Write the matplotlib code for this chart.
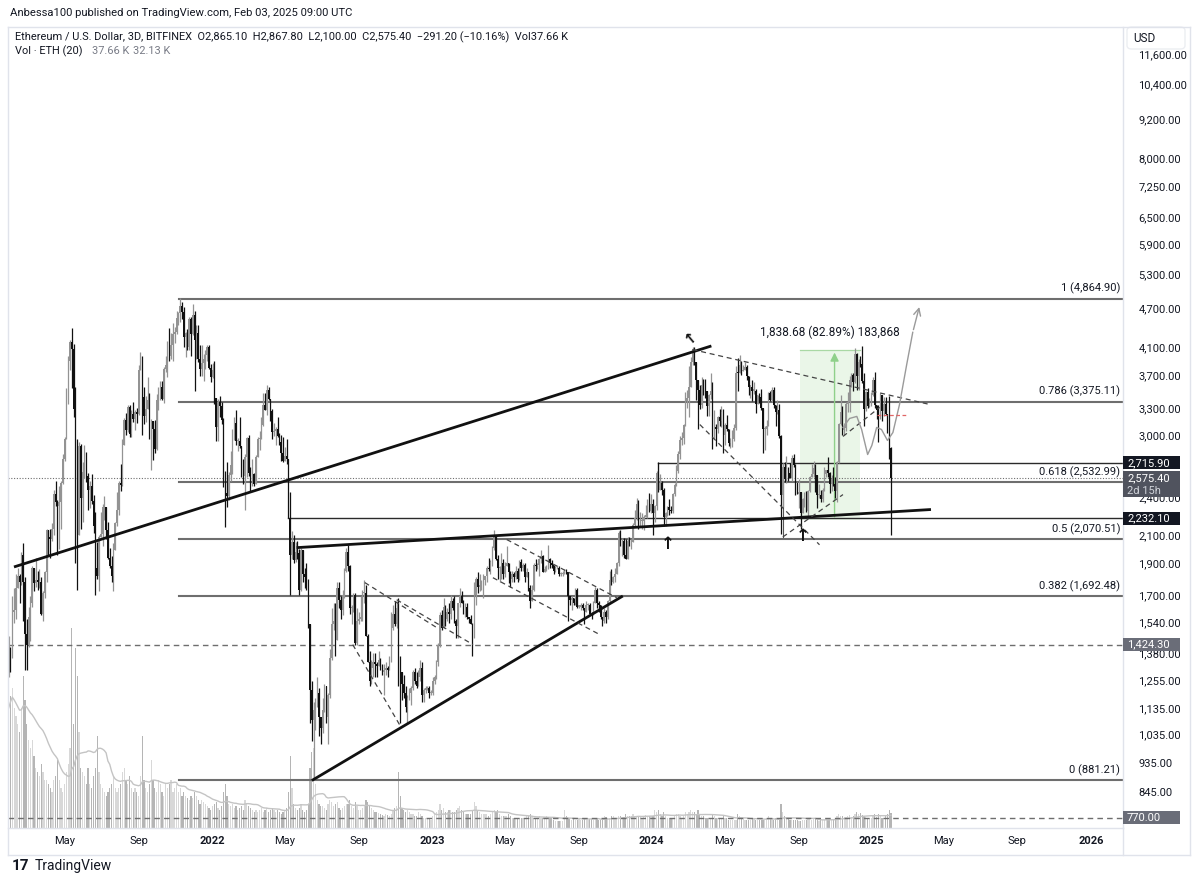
import datetime as dt
import numpy as np
import pandas as pd
import matplotlib
matplotlib.use("Agg")
import matplotlib.pyplot as plt
import matplotlib.dates as mdates
from matplotlib.patches import Rectangle, FancyBboxPatch
from matplotlib.ticker import FixedLocator, FuncFormatter, NullLocator
from matplotlib.transforms import blended_transform_factory

plt.rcParams['font.family'] = ['Roboto', 'DejaVu Sans']

# ---------------- data (3D candles, Bitfinex ETH/USD) ----------------
first_candle = "2021-01-28"
open0 = 1330

close_a = [1380,1370,1600,1610,1740,1820,1780,1960,1780,1480,
           1420,1570,1650,1870,1770,1790,1780,1780,1590,1710,
           1840,2140,2090,2070,2150,2430,2360,2330,2360,2530,
           2750,2950,3500,3900,4170,4070,3290,2780,2100,2880,
           2400,2630,2690,2590,2470,2500,2370,2170,1870,1820,
           2090,2110,2320,2320,2140,1940,1880,1820,1990,2190,
           2300,2530,2510,2890,3160,3050,3310,3010,3230,3170,
           3250,3230,3780,3940,3430,3210,3290,3400,2980,3150,
           3060,2850,3390,3520,3560,3410,3790,3850,4160,3970,
           4130,4290,4320,4540,4620,4740,4640,4240,4300,4090,
           4520,4290,4590,4200,4310,3920,3790,3870,3930,3980,
           4090,3800,3680]
high_a = [1470,1410,1690,1740,1830,1870,1830,1980,2040,1810,
          1560,1630,1690,1880,1870,1940,1850,1860,1810,1720,
          1850,2150,2140,2150,2190,2470,2550,2380,2500,2550,
          2800,2980,3540,3970,4200,4380,4140,3550,2950,2920,
          2900,2720,2890,2820,2620,2550,2610,2420,2280,2050,
          2100,2280,2350,2410,2280,2200,2010,1950,2040,2200,
          2450,2550,2700,2950,3180,3240,3330,3330,3270,3370,
          3270,3300,3840,4030,3970,3550,3440,3680,3480,3170,
          3150,3160,3470,3550,3630,3630,3810,3970,4180,4380,
          4300,4460,4400,4660,4640,4870,4810,4720,4320,4370,
          4550,4560,4780,4650,4430,4430,4130,4120,4000,4060,
          4130,4120,3860]
low_a = [1270,1290,1360,1540,1560,1740,1650,1760,1550,1300,
         1300,1410,1440,1630,1720,1750,1730,1740,1580,1550,
         1680,1780,1960,1940,2060,2100,2330,1960,2000,2150,
         2520,2730,2950,3350,3770,3540,3200,1900,1730,2100,
         2150,2200,2570,2540,2300,2310,2350,2120,1700,1800,
         1720,2090,2020,2220,2070,1930,1870,1780,1720,1990,
         2170,2260,2460,2500,2900,3000,3030,2980,2980,3140,
         3050,3130,3220,3830,3000,3120,3140,3380,2960,2650,
         2740,2810,2840,3270,3390,3400,3360,3750,3680,3900,
         3920,3900,4150,4290,4430,4470,4520,4100,3950,4060,
         4060,3970,4280,3500,3920,3890,3700,3690,3630,3790,
         3900,3790,3620]

close_b = [3770,3420,3080,3370,3320,3160,2560,2440,2410,2600,
           2690,3010,3130,2930,2930,2880,2620,2590,2770,2970,
           2620,2500,2610,2520,2770,2950,2970,3110,3330,3280,
           3520,3410,3260,3030,3040,3060,2990,2920,2810,2730,
           2780,2750,2230,1960,2050,1920,1980,1970,1730,1990,
           1830,1810,1790,1530,1210,1090,1130,1140,1200,1100,
           1060,1130,1230,1100,1190,1360,1530,1550,1450,1740,
           1670,1610,1700,1850,1980,1880,1620,1620,1700,1430,
           1550,1560,1570,1710,1710,1470,1340,1250,1310,1340,
           1330,1320,1350,1320,1290,1300,1310,1300,1350,1510,
           1590,1530,1620,1340,1290,1240,1200,1140,1180,1200,
           1220,1290,1250,1230,1270,1310,1190,1210,1220,1220,
           1200,1200]
high_b = [3870,3900,3420,3410,3440,3370,3180,2640,2720,2630,
          2830,3060,3190,3280,2970,3200,2860,2750,2800,2980,
          3000,2680,2750,2620,2790,2980,3040,3190,3480,3480,
          3580,3550,3300,3290,3130,3080,3190,3020,3000,2980,
          2870,2960,2700,2450,2130,2100,2050,2060,2000,2010,
          1990,1870,1900,1800,1530,1250,1160,1180,1270,1220,
          1100,1180,1240,1230,1200,1400,1620,1650,1650,1780,
          1780,1690,1730,1870,2010,2030,1890,1640,1710,1710,
          1620,1600,1690,1730,1790,1760,1480,1390,1350,1380,
          1380,1340,1390,1360,1330,1330,1340,1320,1370,1600,
          1640,1660,1660,1680,1370,1290,1280,1230,1190,1220,
          1230,1300,1310,1290,1300,1350,1340,1220,1230,1230,
          1230,1210]
low_b = [3670,3350,2930,2930,3190,3120,2490,2160,2320,2380,
         2550,2610,2940,2890,2830,2860,2580,2520,2300,2580,
         2590,2450,2500,2500,2520,2770,2840,2960,3100,3270,
         3220,3390,3150,2950,2990,2890,2980,2890,2730,2720,
         2760,2700,2230,1700,1930,1900,1910,1930,1700,1720,
         1780,1740,1730,1510,1080,1010,881.21,1050,1140,1030,
         1000,1040,1120,1080,1000,1180,1350,1500,1370,1450,
         1620,1560,1580,1680,1840,1850,1590,1530,1600,1420,
         1420,1530,1550,1550,1650,1470,1340,1230,1240,1270,
         1270,1270,1320,1300,1280,1190,1280,1270,1300,1340,
         1500,1520,1510,1230,1080,1170,1180,1120,1080,1170,
         1150,1210,1240,1220,1260,1250,1160,1160,1200,1210,
         1180,1190]

close_c = [1250,1270,1340,1420,1580,1510,1630,1560,1600,1590,
           1660,1620,1550,1520,1650,1690,1650,1610,1630,1570,
           1560,1530,1490,1700,1800,1750,1750,1770,1790,1820,
           1870,1860,1910,2010,2100,1930,1870,1870,1900,1830,
           1880,1900,1840,1800,1830,1810,1850,1800,1910,1870,
           1890,1810,1840,1740,1660,1730,1890,1880,1890,1930,
           1950,1840,1860,1870,1930,1900,1890,1850,1870,1870,
           1830,1830,1830,1850,1840,1690,1670,1680,1650,1730,
           1630,1630,1640,1620,1600,1640,1640,1590,1580,1650,
           1730,1650,1640,1570,1550,1600,1570,1660,1790,1780,
           1810,1830,1900,2120,2040,2060,1960,1930,2060,2030,
           2050,2180,2230,2350,2200,2210,2210,2240,2260,2380,
           2290,2350]
high_c = [1270,1280,1350,1430,1600,1610,1680,1640,1620,1650,
          1700,1680,1690,1560,1650,1740,1720,1670,1650,1650,
          1570,1580,1540,1780,1810,1840,1830,1790,1830,1820,
          1880,1940,1920,2020,2140,2100,1960,1880,1970,1930,
          1910,2020,1880,1850,1850,1840,1880,1870,1920,1930,
          1900,1900,1870,1840,1760,1760,1900,1930,1900,1940,
          1990,1960,1880,1890,2030,1940,1920,1890,1880,1880,
          1880,1840,1850,1860,1860,1840,1690,1690,1670,1740,
          1740,1640,1650,1650,1620,1660,1650,1650,1600,1660,
          1750,1740,1660,1640,1570,1620,1610,1670,1850,1860,
          1820,1870,1910,2130,2140,2080,2080,2070,2090,2090,
          2070,2190,2300,2400,2380,2280,2270,2260,2340,2390,
          2440,2430]
low_c = [1190,1240,1260,1320,1410,1500,1510,1520,1550,1540,
         1560,1610,1540,1460,1460,1630,1650,1590,1570,1560,
         1540,1530,1370,1460,1640,1710,1720,1730,1680,1760,
         1780,1850,1830,1880,1990,1920,1800,1780,1800,1800,
         1810,1880,1770,1750,1780,1780,1800,1780,1790,1850,
         1850,1780,1830,1720,1620,1660,1720,1850,1860,1820,
         1900,1840,1840,1850,1860,1870,1870,1830,1840,1860,
         1820,1820,1820,1840,1830,1550,1640,1610,1640,1640,
         1620,1620,1610,1610,1530,1600,1610,1580,1560,1580,
         1650,1620,1600,1560,1520,1540,1540,1560,1650,1760,
         1770,1780,1830,1880,2020,1950,1940,1930,1930,2020,
         2000,2060,2170,2220,2150,2160,2150,2140,2240,2230,
         2280,2270]

close_d = [2270,2330,2620,2470,2530,2470,2240,2270,2320,2300,
           2290,2430,2510,2640,2800,2940,2970,3110,3380,3420,
           3560,3880,4070,3880,3650,3520,3330,3580,3510,3500,
           3320,3450,3500,3020,3080,3060,3200,3150,3250,3000,
           3110,3060,2910,2950,2950,3070,3740,3730,3840,3760,
           3770,3810,3690,3560,3560,3510,3510,3350,3450,3430,
           3300,3060,3060,3100,3480,3400,3520,3340,3250,3280,
           2990,2420,2680,2560,2660,2620,2570,2760,2690,2530,
           2430,2450,2270,2390,2430,2290,2460,2580,2610,2670,
           2600,2420,2420,2390,2470,2610,2650,2620,2520,2560,
           2520,2460,2720,3120,3250,3050,3070,3350,3370,3650,
           3710,3620,3990,3700,3880,3860,3630,3290,3490,3320,
           3350,3450]
high_d = [2390,2340,2640,2720,2610,2550,2480,2280,2330,2390,
          2330,2440,2530,2690,2830,2990,3030,3120,3490,3520,
          3830,3960,4090,4090,3740,3600,3580,3680,3660,3660,
          3480,3470,3730,3620,3280,3120,3210,3290,3320,3290,
          3130,3220,3050,2970,3050,3120,3830,3940,3980,3900,
          3840,3890,3840,3700,3570,3650,3620,3530,3460,3480,
          3530,3300,3100,3160,3490,3500,3560,3550,3290,3390,
          3350,3000,2710,2720,2780,2680,2710,2790,2800,2700,
          2530,2560,2440,2400,2450,2460,2470,2590,2700,2730,
          2700,2500,2520,2470,2480,2680,2650,2770,2630,2600,
          2680,2580,2730,3130,3450,3320,3130,3370,3490,3690,
          3730,3740,4080,4010,3920,3970,4110,3730,3500,3540,
          3420,3490]
low_d = [2100,2200,2300,2450,2490,2420,2170,2170,2250,2260,
         2270,2270,2410,2500,2620,2750,2890,2900,3100,3300,
         3200,3680,3850,3840,3400,3060,3290,3300,3460,3420,
         3210,3210,3410,2850,2950,2880,3020,3090,3080,2810,
         2890,3040,2880,2860,2870,2930,3050,3510,3780,3710,
         3760,3770,3640,3450,3420,3380,3470,3240,3350,3360,
         3280,2810,2840,3000,3110,3380,3370,3300,3090,3230,
         2970,2110,2320,2540,2530,2550,2570,2550,2680,2420,
         2430,2310,2150,2280,2320,2280,2250,2450,2580,2580,
         2450,2310,2400,2360,2360,2460,2580,2580,2440,2460,
         2500,2400,2360,2710,3110,3000,3000,3040,3250,3250,
         3550,3510,3600,3520,3520,3820,3610,3100,3260,3300,
         3310,3320]

close_e = [3640,3330,3280,3230,3450,3260,3350,3230,3110,2865.10,2575.40]
high_e = [3680,3750,3340,3340,3480,3450,3430,3430,3220,3440,2867.80]
low_e = [3440,3300,3170,2920,3170,3150,3210,3220,3020,2750,2100.00]

# volume in thousands of ETH
vol_a = [300,330,350,300,280,260,240,300,380,320,260,
         220,200,220,180,150,140,130,160,140,120,
         120,110,100,90,120,130,170,120,100,90,
         110,140,160,200,500,260,450,380,240,150,
         140,130,110,150,110,100,130,150,230,140,110,100,90,80,90,100,110,130,100,90,
         100,110,140,150,120,110,130,100,90,100,90,80,130,230,120,100,90,110,170,120,
         100,90,120,110,90,80,110,100,110,120,90,100,110,90,100,80,90,80,75,70,
         80,75,90,80,70,60,70,65,60,55,50,45]
vol_b = [55,60,65,50,45,55,90,110,80,60,55,60,50,55,45,50,55,45,70,60,
         55,50,45,40,45,40,45,50,40,45,50,40,45,50,45,40,45,40,35,40,
         45,50,90,180,100,60,50,45,50,60,45,40,45,60,150,190,200,110,70,60,55,
         55,50,45,60,70,65,55,60,65,50,45,50,55,60,60,70,55,50,65,55,
         45,45,50,55,70,65,55,50,45,40,40,38,35,32,30,35,32,30,35,45,
         50,55,140,80,50,45,40,45,40,35,35,30,30,40,35,30,25,25,22,22,20]
vol_c = [30,35,40,45,60,45,50,40,40,45,45,40,40,45,50,55,45,40,35,35,
         35,35,45,65,55,45,40,35,35,35,35,30,35,40,45,40,45,35,30,30,
         30,30,35,30,25,25,25,25,25,25,25,25,30,30,35,30,25,25,25,30,
         25,25,25,30,25,25,25,20,18,18,18,18,18,45,30,25,25,20,22,20,
         20,25,20,20,25,20,20,22,22,20,22,25,20,20,20,30,28,25,25,30,
         30,25,25,30,30,28,28,35,30,30,30,35,30,28,30,28,25,30,32,30,
         30,30]
vol_d = [30,45,40,45,35,30,40,30,25,25,25,25,30,35,35,30,25,30,40,35,
         40,45,40,40,35,45,35,30,30,25,25,25,25,35,30,25,25,25,25,30,
         25,25,20,20,20,20,20,35,30,25,25,20,20,20,20,22,25,20,20,20,
         20,20,20,25,30,25,22,20,25,20,20,60,40,30,25,22,20,20,20,20,
         20,18,18,20,20,20,25,22,20,22,22,20,18,20,20,20,25,20,20,20,
         20,22,30,35,30,30,28,28,30,32,28,30,35,40,35,38,32,30,28,25,
         25,25]
vol_e = [30,35,28,35,30,25,25,30,35,45,37.66]

# fib retracement levels (as labelled on the chart)
fib_ratios = [0, 0.382, 0.5, 0.618, 0.786, 1]
fib_prices = [881.21, 1692.48, 2070.51, 2532.99, 3375.11, 4864.90]
fib_start = "2021-11-07"

# horizontal price levels
hlines_solid = [(2715.90, "2024-01-12"), (2232.10, "2022-05-07")]
hlines_dashed = [1424.30, 770.00]
last_price = 2575.40

trend_lines = [(("2021-02-08", 1879), ("2024-04-08", 4106)),
               (("2022-05-24", 2010), ("2025-04-08", 2300)),
               (("2022-06-18", 881.21), ("2023-11-13", 1688))]
dashed_lines = [(("2022-09-12", 1775), ("2023-01-10", 1512)),
                (("2022-08-23", 1424), ("2022-11-09", 1071)),
                (("2022-11-04", 1670), ("2023-03-11", 1424)),
                (("2023-05-06", 2068), ("2023-11-05", 1682)),
                (("2023-04-13", 1806), ("2023-10-08", 1475)),
                (("2024-03-10", 4060), ("2025-04-08", 3341)),
                (("2024-03-22", 3111), ("2024-10-07", 2030)),
                (("2024-08-07", 2087), ("2024-11-15", 2426)),
                (("2024-11-15", 2982), ("2025-01-15", 3306))]
vertical_lines = [("2024-01-12", 2715.90, 2470), ("2024-08-07", 2715.90, 2087)]
measure_box = ("2024-09-04", "2024-12-13", 2218.2, 4056.9)
measure_arrow_date = "2024-11-01"
measure_text = "1,838.68 (82.89%) 183,868"
measure_text_price = 4316
projection = [("2024-11-15", 3079), ("2024-11-26", 3179), ("2024-12-08", 3202),
              ("2024-12-16", 3057), ("2024-12-26", 2797), ("2025-01-02", 2888),
              ("2025-01-10", 3079), ("2025-01-18", 3057), ("2025-01-28", 2940),
              ("2025-02-06", 3024), ("2025-02-17", 3341), ("2025-03-01", 3852),
              ("2025-03-11", 4316), ("2025-03-23", 4767)]
red_dash = (("2025-01-10", 3213), ("2025-03-01", 3213))
up_marks = [("2024-01-28", 2102), ("2024-09-09", 2165)]
top_mark = ("2024-03-05", 4091)

price_ticks = [845, 935, 1035, 1135, 1255, 1380, 1540, 1700, 1900, 2100, 2400,
               3000, 3300, 3700, 4100, 4700, 5300, 5900, 6500, 7250, 8000,
               9200, 10400, 11600]
time_labels = [("2021-05", "May"), ("2021-09", "Sep"), ("2022-01", "2022"),
               ("2022-05", "May"), ("2022-09", "Sep"), ("2023-01", "2023"),
               ("2023-05", "May"), ("2023-09", "Sep"), ("2024-01", "2024"),
               ("2024-05", "May"), ("2024-09", "Sep"), ("2025-01", "2025"),
               ("2025-05", "May"), ("2025-09", "Sep"), ("2026-01", "2026")]

# ---------------- figure ----------------
W, H = 1200, 881
fig = plt.figure(figsize=(W / 100, H / 100), dpi=100)
fig.patch.set_facecolor("white")
L, R, T, B = 8, 1123, 27, 828
rect = [L / W, 1 - B / H, (R - L) / W, (B - T) / H]
axv = fig.add_axes(rect, zorder=0)
ax = fig.add_axes(rect, zorder=1)
ax.patch.set_alpha(0)

D = mdates.datestr2num
close = np.array(close_a + close_b + close_c + close_d + close_e, float)
high = np.array(high_a + high_b + high_c + high_d + high_e, float)
low = np.array(low_a + low_b + low_c + low_d + low_e, float)
vol = np.array(vol_a + vol_b + vol_c + vol_d + vol_e, float)
n = len(close)
x = D(first_candle) + 3 * np.arange(n)
opens = np.concatenate([[open0], close[:-1]])
hi = np.maximum(high, np.maximum(opens, close))
lo = np.minimum(low, np.minimum(opens, close))
up = close >= opens

# x scale: 2022-01-01 at px 212, 0.6015 px/day
x0 = D("2022-01-01")
xl = x0 + (L - 212) / 0.6015
xr = x0 + (R - 212) / 0.6015
ymin, ymax = 742.6, 12761
for a in (ax, axv):
    a.set_xlim(xl, xr)
ax.set_yscale("log")
ax.set_ylim(ymin, ymax)

# volume
nv = min(len(vol), n)
vcol = np.where(up[:nv], "#d8d8d8", "#b5b5b5")
axv.bar(x[:nv], vol[:nv], width=2.0, color=vcol, linewidth=0)
ma = pd.Series(vol[:nv]).rolling(20, min_periods=1).mean()
axv.plot(x[:nv], ma, color="#c4c4c4", lw=1.0)
axv.set_ylim(0, 2000)
axv.axis("off")

# candles
upc, dnc = "#939393", "#111111"
ax.vlines(x[up], lo[up], hi[up], color=upc, lw=0.9, zorder=3)
ax.vlines(x[~up], lo[~up], hi[~up], color=dnc, lw=0.9, zorder=3)
body_lo = np.minimum(opens, close)
body_h = np.maximum(np.abs(close - opens), body_lo * 0.004)
ax.bar(x[up], body_h[up], bottom=body_lo[up], width=2.4, color=upc, linewidth=0, zorder=4)
ax.bar(x[~up], body_h[~up], bottom=body_lo[~up], width=2.4, color=dnc, linewidth=0, zorder=4)

# fib levels
fib_x0 = D(fib_start)
for f, p in zip(fib_ratios, fib_prices):
    ax.plot([fib_x0, xr], [p, p], color="#6e6e6e", lw=1.5, zorder=2)
    ax.annotate(f"{f:g} ({p:,.2f})", xy=(0.9975, p),
                xycoords=blended_transform_factory(ax.transAxes, ax.transData),
                xytext=(0, 3), textcoords="offset points", ha="right", va="bottom",
                fontsize=8, color="#131722")

for p, d0 in hlines_solid:
    ax.plot([D(d0), xr], [p, p], color="#2a2a2a", lw=1.0, zorder=2)
for p in hlines_dashed:
    ax.plot([xl, xr], [p, p], color="#6e6e6e", lw=1.0, ls=(0, (4, 3)), zorder=2)
ax.plot([xl, xr], [last_price, last_price], color="#6e6e6e", lw=0.8, ls=(0, (1, 1.5)), zorder=2)
for d0, p0, p1 in vertical_lines:
    ax.plot([D(d0), D(d0)], [p0, p1], color="#555555", lw=0.8, zorder=2)

for (d0, p0), (d1, p1) in trend_lines:
    ax.plot([D(d0), D(d1)], [p0, p1], color="#111111", lw=2.0, zorder=5)
for (d0, p0), (d1, p1) in dashed_lines:
    ax.plot([D(d0), D(d1)], [p0, p1], color="#444444", lw=0.9, ls=(0, (4, 3)), zorder=5)

# measure box
m0, m1, mlo, mhi = measure_box
ax.fill_between([D(m0), D(m1)], mlo, mhi, color="#e3f4e1", alpha=0.75, lw=0, zorder=1)
ax.plot([D(m0), D(m1)], [mhi, mhi], color="#a9d8a4", lw=0.9, zorder=2)
ax.annotate("", xy=(D(measure_arrow_date), mhi), xytext=(D(measure_arrow_date), mlo),
            arrowprops=dict(arrowstyle="-|>,head_length=0.5,head_width=0.25", color="#8fd08a", lw=1.0), zorder=2)
ax.text((D(m0) + D(m1)) / 2, measure_text_price, measure_text, ha="center", va="center",
        fontsize=8.5, color="#131722")

# projection path
px_ = [D(d) for d, _ in projection]
py_ = [p for _, p in projection]
ax.plot(px_[:-1], py_[:-1], color="#9a9a9a", lw=1.0, zorder=5, solid_joinstyle="round")
ax.annotate("", xy=(px_[-1], py_[-1]), xytext=(px_[-2], py_[-2]),
            arrowprops=dict(arrowstyle="->,head_length=0.5,head_width=0.25", color="#9a9a9a", lw=1.0), zorder=5)
(rd0, rp0), (rd1, rp1) = red_dash
ax.plot([D(rd0), D(rd1)], [rp0, rp1], color="#e06666", lw=0.9, ls=(0, (3, 2)), zorder=5)

for d, p in up_marks:
    ax.text(D(d), p, "\u2191", ha="center", va="top", fontsize=12, fontweight="bold",
            color="#111111", family="DejaVu Sans", zorder=6)
ax.text(D(top_mark[0]), top_mark[1], "\u2191", ha="center", va="bottom", fontsize=11,
        fontweight="bold", color="#111111", family="DejaVu Sans", rotation=40, zorder=6)

# axes styling
ax.yaxis.tick_right()
ax.yaxis.set_major_locator(FixedLocator(price_ticks))
ax.yaxis.set_minor_locator(NullLocator())
ax.yaxis.set_major_formatter(FuncFormatter(lambda v, p: f"{v:,.2f}"))
ax.tick_params(axis="y", length=0, pad=11, labelsize=8, labelcolor="#131722")

grid_dates = D(first_candle) + 3 * np.arange(700)
tpos, tlab = [], []
for ym, lab in time_labels:
    m = D(ym + "-01")
    tpos.append(grid_dates[grid_dates >= m][0])
    tlab.append(lab)
ax.set_xticks(tpos)
ax.set_xticklabels(tlab)
ax.xaxis.set_minor_locator(NullLocator())
ax.tick_params(axis="x", length=0, pad=6, labelsize=8, labelcolor="#131722")
for t in ax.get_xticklabels():
    if t.get_text().isdigit():
        t.set_fontweight("bold")
for s in ("top", "left"):
    ax.spines[s].set_visible(False)
for s in ("right", "bottom"):
    ax.spines[s].set_color("#e0e3eb")
    ax.spines[s].set_linewidth(1)

# frame lines
def fline(xs, ys, **kw):
    fig.add_artist(plt.Line2D([v / W for v in xs], [1 - v / H for v in ys],
                              transform=fig.transFigure, **kw))
fline([L, 1190], [T, T], color="#e0e3eb", lw=1)
fline([L, 1190], [855, 855], color="#e0e3eb", lw=1)
fline([L, L], [T, 855], color="#e0e3eb", lw=1)
fline([1190, 1190], [T, 855], color="#e0e3eb", lw=1)
fline([R, R], [B, 855], color="#e0e3eb", lw=1)

# price boxes on the axis
fig.canvas.draw()
def py_of(p):
    return H - ax.transData.transform((xr, p))[1]

def pbox(p, text, fc, h=13, sub=None):
    yc = py_of(p)
    top = yc - h / 2
    hh = h if sub is None else h + 13
    fig.add_artist(Rectangle((R / W, 1 - (top + hh) / H), 57 / W, hh / H,
                             transform=fig.transFigure, fc=fc, ec="none", zorder=10))
    fig.text(1127 / W, 1 - yc / H, text, color="white", fontsize=8, va="center", zorder=11)
    if sub:
        fig.text(1127 / W, 1 - (yc + 13) / H, sub, color="#d0d3da", fontsize=8, va="center", zorder=11)

pbox(2715.90, "2,715.90", "#131722")
pbox(last_price, "2,575.40", "#50535e", sub="2d 15h")
pbox(2232.10, "2,232.10", "#131722")
pbox(1424.30, "1,424.30", "#6a6d78")
pbox(770.00, "770.00", "#6a6d78")

# USD label
fig.add_artist(FancyBboxPatch((1127 / W, 1 - 49 / H), 58 / W, 22 / H,
                              boxstyle="round,pad=0,rounding_size=0.004",
                              transform=fig.transFigure, fc="white", ec="#eceef2", lw=1))
fig.text(1133 / W, 1 - 38 / H, "USD", fontsize=8.5, color="#131722", va="center")

# header text
fig.text(10 / W, 1 - 13 / H, "Anbessa100 published on TradingView.com, Feb 03, 2025 09:00 UTC",
         fontsize=8.1, color="#131722", va="center")
fig.text(15 / W, 1 - 37 / H,
         "Ethereum / U.S. Dollar, 3D, BITFINEX  O2,865.10  H2,867.80  L2,100.00  C2,575.40  "
         "\u2212291.20 (\u221210.16%)  Vol37.66 K",
         fontsize=7.9, color="#131722", va="center")
fig.text(15 / W, 1 - 51 / H, "Vol \u00b7 ETH (20)", fontsize=7.9, color="#131722", va="center")
fig.text(92 / W, 1 - 51 / H, "37.66 K", fontsize=7.9, color="#787b86", va="center")
fig.text(133 / W, 1 - 51 / H, "32.13 K", fontsize=7.9, color="#787b86", va="center")

# footer logo
fig.text(12 / W, 1 - 866 / H, "17", fontsize=11, fontweight="bold", color="#131722", va="center")
fig.text(35 / W, 1 - 866 / H, "TradingView", fontsize=10, color="#131722", va="center")

fig.savefig("out.png", dpi=100, facecolor="white")
